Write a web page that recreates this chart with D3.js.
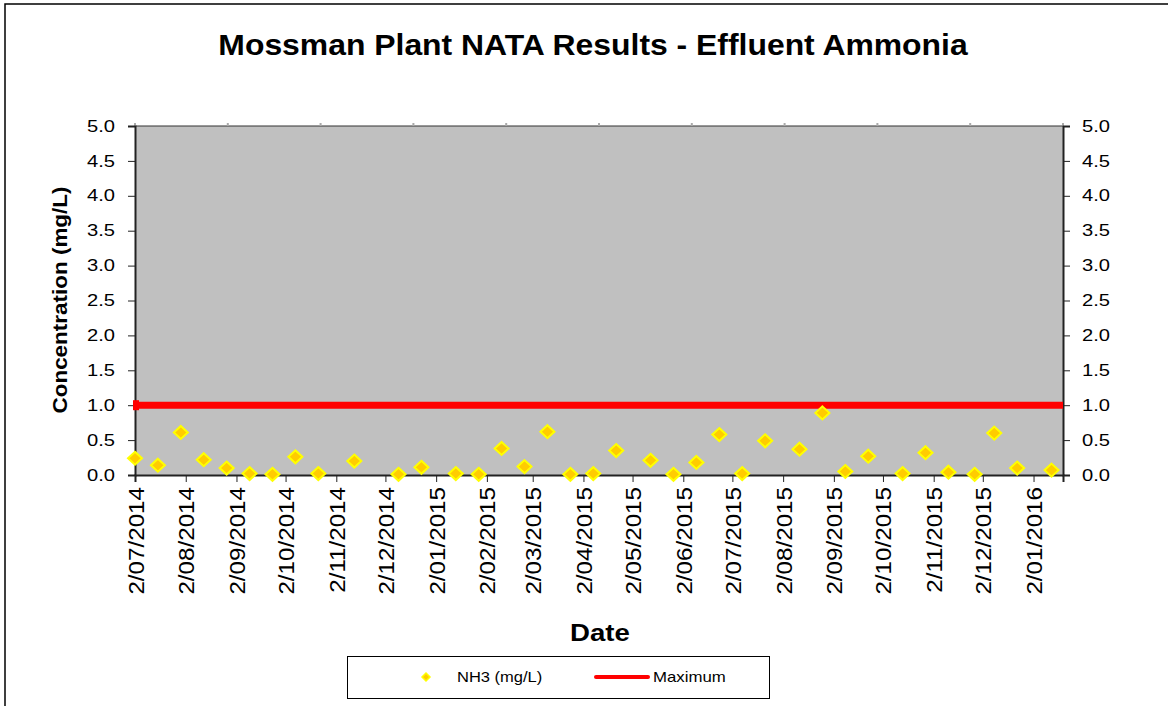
<!DOCTYPE html>
<html lang="en">
<head>
	<meta charset="UTF-8">
	<title>Mossman Plant NATA Results - Effluent Ammonia</title>
	<script src="https://d3js.org/d3.v7.min.js"></script>
	<style>
		body { margin: 0; background: #fff; }
		svg { display: block; font-family: "Liberation Sans", Arial, sans-serif; }
	</style>
</head>
<body>
	<svg width="1168" height="706"></svg>
	<script>
		// sample dates (d/mm/yyyy) and NH3 results
		const sampleDates = ["2/07/2014","16/07/2014","30/07/2014","13/08/2014","27/08/2014","10/09/2014","24/09/2014",
			"8/10/2014","22/10/2014","13/11/2014","10/12/2014","24/12/2014","14/01/2015","28/01/2015","11/02/2015",
			"25/02/2015","11/03/2015","25/03/2015","8/04/2015","22/04/2015","13/05/2015","27/05/2015","10/06/2015",
			"24/06/2015","8/07/2015","22/07/2015","12/08/2015","26/08/2015","9/09/2015","23/09/2015","14/10/2015",
			"28/10/2015","11/11/2015","27/11/2015","9/12/2015","23/12/2015","13/01/2016"];
		const nh3Values = [0.24,0.14,0.61,0.22,0.10,0.02,0.01,0.26,0.02,0.20,0.01,0.11,0.02,0.01,0.38,
			0.12,0.62,0.01,0.02,0.35,0.21,0.01,0.18,0.58,0.02,0.49,0.37,0.89,0.05,0.27,0.02,
			0.32,0.04,0.01,0.60,0.10,0.07];
		const maximumValue = 1.0;
		const xTickDates = ["2/07/2014","2/08/2014","2/09/2014","2/10/2014","2/11/2014","2/12/2014","2/01/2015",
			"2/02/2015","2/03/2015","2/04/2015","2/05/2015","2/06/2015","2/07/2015","2/08/2015","2/09/2015",
			"2/10/2015","2/11/2015","2/12/2015","2/01/2016"];
		const xDomain = ["2/07/2014", "20/01/2016"];
		const yTicks = [0, 0.5, 1, 1.5, 2, 2.5, 3, 3.5, 4, 4.5, 5];

		const parse = d3.timeParse("%d/%m/%Y");
		const data = sampleDates.map((d, i) => ({ date: parse(d), value: nh3Values[i] }));

		const svg = d3.select("svg");
		const plotLeft = 135, plotRight = 1063, plotTop = 126, plotBottom = 475;

		const x = d3.scaleTime().domain(xDomain.map(parse)).range([plotLeft, plotRight]);
		const y = d3.scaleLinear().domain([0, 5]).range([plotBottom, plotTop]);

		// the source renders its text a bit wide, so stretch along the baseline
		function label(px, py, txt, size, sx, opts) {
			opts = opts || {};
			return svg.append("text")
				.attr("transform", "translate(" + px + "," + py + ")" + (opts.rotate ? " rotate(-90)" : "") + " scale(" + sx + ",1)")
				.attr("text-anchor", opts.anchor || "start")
				.style("font-size", size + "px")
				.style("font-weight", opts.bold ? "bold" : "normal")
				.text(txt);
		}

		// outer chart frame (extends past the window on right and bottom)
		svg.append("rect")
			.attr("x", 5).attr("y", 4)
			.attr("width", 1300).attr("height", 800)
			.attr("fill", "none").attr("stroke", "#000").attr("stroke-width", 1.5);

		label(593, 55, "Mossman Plant NATA Results - Effluent Ammonia", 29, 1.1, { anchor: "middle", bold: true });

		// plot area
		svg.append("rect")
			.attr("x", plotLeft).attr("y", plotTop)
			.attr("width", plotRight - plotLeft).attr("height", plotBottom - plotTop)
			.attr("fill", "#c0c0c0");

		// top secondary axis line with faint marks
		svg.append("line")
			.attr("x1", plotLeft).attr("x2", plotRight).attr("y1", plotTop).attr("y2", plotTop)
			.attr("stroke", "#333").attr("stroke-width", 1.2);
		svg.append("g")
			.selectAll("line")
			.data(d3.range(11))
			.enter().append("line")
			.attr("x1", i => plotLeft + i * (plotRight - plotLeft) / 10)
			.attr("x2", i => plotLeft + i * (plotRight - plotLeft) / 10)
			.attr("y1", plotTop - 3).attr("y2", plotTop)
			.attr("stroke", "#aaa").attr("stroke-width", 2);

		// y axes
		const yLeft = svg.append("g")
			.attr("transform", "translate(" + plotLeft + ",0)")
			.call(d3.axisLeft(y).tickValues(yTicks).tickFormat(d3.format(".1f")).tickSize(7));
		const yRight = svg.append("g")
			.attr("transform", "translate(" + plotRight + ",0)")
			.call(d3.axisRight(y).tickValues(yTicks).tickFormat(d3.format(".1f")).tickSize(7));
		[[yLeft, -20], [yRight, 19]].forEach(([g, off]) => {
			g.select(".domain").attr("stroke", "#222").attr("stroke-width", 2);
			g.selectAll(".tick line").attr("stroke", "#222");
			g.selectAll("text")
				.attr("x", 0)
				.attr("transform", "translate(" + off + ",0) scale(1.26,1)")
				.style("font-size", "16px").attr("fill", "#000")
				.style("font-family", "'Liberation Sans', Arial, sans-serif");
		});

		// x axis
		const xAxis = svg.append("g")
			.attr("transform", "translate(0," + plotBottom + ")")
			.call(d3.axisBottom(x).tickValues(xTickDates.map(parse))
				.tickFormat((d, i) => xTickDates[i]).tickSize(7));
		xAxis.select(".domain").attr("stroke", "#222").attr("stroke-width", 2);
		xAxis.selectAll(".tick line").attr("stroke", "#222");
		xAxis.selectAll("text")
			.style("font-size", "22px").attr("fill", "#000")
			.style("font-family", "'Liberation Sans', Arial, sans-serif")
			.attr("text-anchor", "end")
			.attr("x", 0).attr("y", 0).attr("dy", null)
			.attr("transform", "translate(8,12) rotate(-90) scale(1.1,1)");

		// maximum line
		svg.append("line")
			.attr("x1", plotLeft).attr("x2", plotRight)
			.attr("y1", y(maximumValue)).attr("y2", y(maximumValue))
			.attr("stroke", "#ff0000").attr("stroke-width", 7);
		svg.append("rect")
			.attr("x", plotLeft - 2).attr("y", y(maximumValue) - 5)
			.attr("width", 6).attr("height", 10)
			.attr("fill", "#ff0000");

		// NH3 points
		const diamond = (w, h) => "M0," + (-h) + "L" + w + ",0L0," + h + "L" + (-w) + ",0Z";
		svg.append("g")
			.selectAll("path")
			.data(data)
			.enter().append("path")
			.attr("transform", d => "translate(" + x(d.date) + "," + y(d.value) + ")")
			.attr("d", diamond(7, 6.5))
			.attr("fill", "#ffcc00")
			.attr("stroke", "#ffff00")
			.attr("stroke-width", 2);

		// axis titles
		label(67, 300, "Concentration (mg/L)", 21, 1.07, { anchor: "middle", bold: true, rotate: true });
		label(600, 641, "Date", 24, 1.15, { anchor: "middle", bold: true });

		// legend
		svg.append("rect")
			.attr("x", 347.5).attr("y", 656.5).attr("width", 422).attr("height", 42)
			.attr("fill", "#fff").attr("stroke", "#000");
		svg.append("path")
			.attr("transform", "translate(426,677)")
			.attr("d", diamond(4, 4))
			.attr("fill", "#ffcc00").attr("stroke", "#ffff00").attr("stroke-width", 1.5);
		label(457, 682, "NH3 (mg/L)", 14, 1.18);
		svg.append("line")
			.attr("x1", 596).attr("x2", 648).attr("y1", 677).attr("y2", 677)
			.attr("stroke", "#ff0000").attr("stroke-width", 4).attr("stroke-linecap", "round");
		label(653, 682, "Maximum", 14, 1.2);
	</script>
</body>
</html>
